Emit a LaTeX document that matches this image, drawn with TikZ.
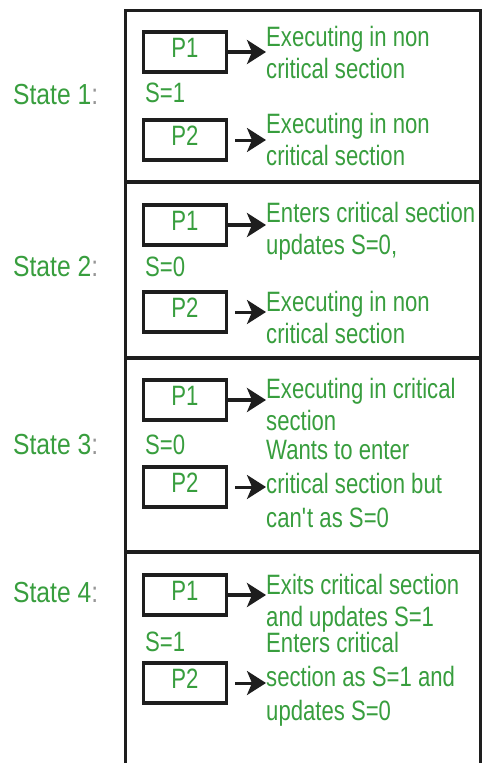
\documentclass[tikz,border=0pt]{standalone}
\usepackage{fontspec}
\setmainfont{Liberation Sans}[FakeStretch=0.79]
\newfontfamily\labfont{Liberation Sans}[FakeStretch=0.85]
\usetikzlibrary{arrows.meta}
\definecolor{tgreen}{RGB}{56,158,62}
\definecolor{ink}{RGB}{30,30,30}
\definecolor{colgray}{RGB}{150,150,150}
\begin{document}
\begin{tikzpicture}[x=1pt,y=-1pt,
  procbox/.style={draw=ink, line width=3.5pt, minimum width=83pt, minimum height=40pt,
    inner sep=0pt, text=tgreen, font=\fontsize{28}{32}\selectfont,
    text height=20pt, text depth=10pt},
  svalue/.style={anchor=west, inner sep=0pt, text=tgreen, font=\fontsize{28}{32}\selectfont},
  statelab/.style={anchor=west, inner sep=0pt, text=tgreen, font=\labfont\fontsize{29}{32}\selectfont},
  desc/.style={anchor=north west, inner sep=0pt, align=left, text=tgreen, font=\fontsize{28}{32}\selectfont},
  desclong/.style={desc, font=\fontsize{28}{34}\selectfont},
  arrA/.style={draw=ink, line width=3.5pt, -{Stealth[length=19pt,width=24pt,inset=5pt]}},
  arrB/.style={draw=ink, line width=3pt, -{Stealth[length=19pt,width=24pt,inset=5pt]}},
  frame/.style={draw=ink, line width=3pt},
  divider/.style={draw=ink, line width=4pt}]
\useasboundingbox (0,0) rectangle (482,763);
\fill[white] (0,0) rectangle (482,763);

% frame
\coordinate (fTL) at (125,10);
\coordinate (fTR) at (480,10);
\coordinate (fBL) at (125,763);
\coordinate (fBR) at (480,763);
\draw[frame] (fBL) -- (fTL) -- (fTR) -- (fBR);
\foreach \yy in {182,358,552} {
  \draw[divider] (125,\yy) -- (480,\yy);
}

% state labels
\node[statelab] (st1) at (13,95)  {State 1{\color{colgray}:}};
\node[statelab] (st2) at (13,267) {State 2{\color{colgray}:}};
\node[statelab] (st3) at (13,445) {State 3{\color{colgray}:}};
\node[statelab] (st4) at (13,593) {State 4{\color{colgray}:}};

% process boxes
\node[procbox] (s1p1) at (185,52)  {P1};
\node[procbox] (s1p2) at (185,140) {P2};
\node[procbox] (s2p1) at (185,225) {P1};
\node[procbox] (s2p2) at (185,312) {P2};
\node[procbox] (s3p1) at (185,400) {P1};
\node[procbox] (s3p2) at (185,487) {P2};
\node[procbox] (s4p1) at (185,595) {P1};
\node[procbox] (s4p2) at (185,683) {P2};

% semaphore values
\node[svalue] (sv1) at (145,93)  {S=1};
\node[svalue] (sv2) at (145,267) {S=0};
\node[svalue] (sv3) at (145,445) {S=0};
\node[svalue] (sv4) at (145,642) {S=1};

% descriptions
\node[desc] (t11) at (266,26)  {Executing in non\\critical section};
\node[desc] (t12) at (266,113) {Executing in non\\critical section};
\node[desc] (t21) at (266,202) {Enters critical section\\updates S=0,};
\node[desc] (t22) at (266,291) {Executing in non\\critical section};
\node[desc] (t31) at (266,378) {Executing in critical\\section};
\node[desclong] (t32) at (266,440) {Wants to enter\\critical section but\\can\textquotesingle t as S=0};
\node[desc] (t41) at (266,574) {Exits critical section\\and updates S=1};
\node[desclong] (t42) at (266,632) {Enters critical\\section as S=1 and\\updates S=0};

% arrows
\draw[arrA] (s1p1.east) -- (s1p1.east -| t11.west);
\draw[arrB] ([xshift=7pt]s1p2.east) -- (s1p2.east -| t12.west);
\draw[arrA] (s2p1.east) -- (s2p1.east -| t21.west);
\draw[arrB] ([xshift=7pt]s2p2.east) -- (s2p2.east -| t22.west);
\draw[arrA] (s3p1.east) -- (s3p1.east -| t31.west);
\draw[arrB] ([xshift=7pt]s3p2.east) -- (s3p2.east -| t32.west);
\draw[arrA] (s4p1.east) -- (s4p1.east -| t41.west);
\draw[arrB] ([xshift=7pt]s4p2.east) -- (s4p2.east -| t42.west);
\end{tikzpicture}
\end{document}
